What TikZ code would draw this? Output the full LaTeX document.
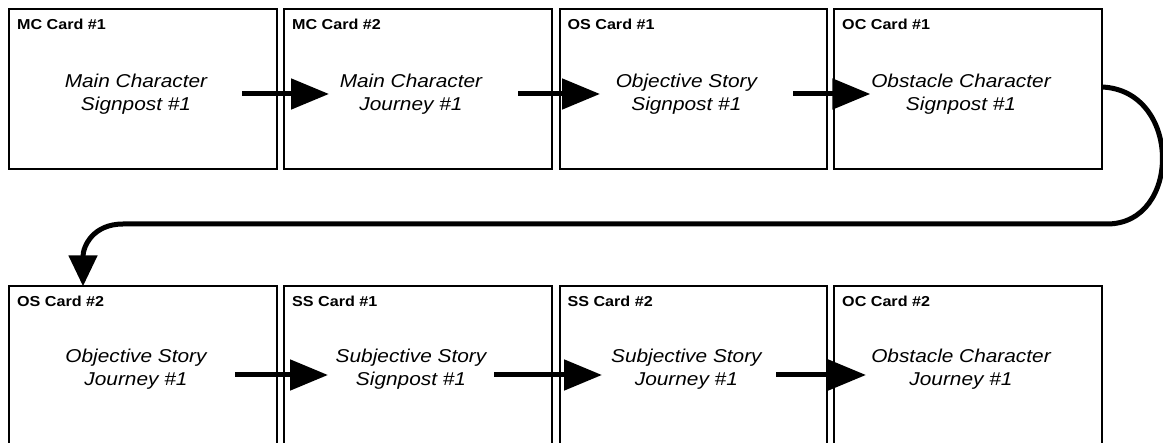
\documentclass[tikz,border=0pt]{standalone}
\usepackage{fontspec}
\setmainfont{Liberation Sans}
\newfontfamily\cardfont[FakeStretch=1.12]{Liberation Sans}
\usetikzlibrary{arrows.meta}
\tikzset{
  card/.style={draw, line width=2pt, minimum width=267.4pt, minimum height=159.4pt,
    inner sep=0pt, outer sep=0pt, anchor=north west},
  cardtitle/.style={anchor=base west, inner sep=0pt,
    font={\cardfont\bfseries\fontsize{14.4}{17}\selectfont}},
  body/.style={anchor=north, inner sep=0pt, align=center,
    font={\cardfont\itshape\fontsize{18.6}{23}\selectfont}},
  flow/.style={line width=5pt, -{Triangle[length=38pt,width=30pt]}},
  conn/.style={line width=5pt, -{Triangle[length=31pt,width=28pt]}}
}
\begin{document}
\begin{tikzpicture}[x=1pt,y=-1pt]
\useasboundingbox (0,0) rectangle (1163,443);
\clip (0,0) rectangle (1163,443);
% row 1
\node[card] (c1) at (9.3,9.3) {};
\node[card] (c2) at (284.3,9.3) {};
\node[card] (c3) at (559.7,9.3) {};
\node[card] (c4) at (834.3,9.3) {};
% row 2
\node[card] (d1) at (9.3,286.3) {};
\node[card] (d2) at (284.3,286.3) {};
\node[card] (d3) at (559.7,286.3) {};
\node[card] (d4) at (834.3,286.3) {};
% titles
\node[cardtitle] (h1) at ([shift={(7.7,20.4)}]c1.north west) {MC Card \#1};
\node[cardtitle] (h2) at ([shift={(7.7,20.4)}]c2.north west) {MC Card \#2};
\node[cardtitle] (h3) at ([shift={(7.7,20.4)}]c3.north west) {OS Card \#1};
\node[cardtitle] (h4) at ([shift={(7.7,20.4)}]c4.north west) {OC Card \#1};
\node[cardtitle] (g1) at ([shift={(7.7,20.4)}]d1.north west) {OS Card \#2};
\node[cardtitle] (g2) at ([shift={(7.7,20.4)}]d2.north west) {SS Card \#1};
\node[cardtitle] (g3) at ([shift={(7.7,20.4)}]d3.north west) {SS Card \#2};
\node[cardtitle] (g4) at ([shift={(7.7,20.4)}]d4.north west) {OC Card \#2};
% bodies
\node[body] (t1) at ([shift={(-7,64.5)}]c1.north) {Main Character\\Signpost \#1};
\node[body] (t2) at ([shift={(-7,64.5)}]c2.north) {Main Character\\Journey \#1};
\node[body] (t3) at ([shift={(-7,64.5)}]c3.north) {Objective Story\\Signpost \#1};
\node[body] (t4) at ([shift={(-7,64.5)}]c4.north) {Obstacle Character\\Signpost \#1};
\node[body] (u1) at ([shift={(-7,62.5)}]d1.north) {Objective Story\\Journey \#1};
\node[body] (u2) at ([shift={(-7,62.5)}]d2.north) {Subjective Story\\Signpost \#1};
\node[body] (u3) at ([shift={(-7,62.5)}]d3.north) {Subjective Story\\Journey \#1};
\node[body] (u4) at ([shift={(-7,62.5)}]d4.north) {Obstacle Character\\Journey \#1};
% arrows row 1
\draw[flow] ([shift={(-34.7,5)}]c1.east) -- ([shift={(44.7,5)}]c2.west);
\draw[flow] ([shift={(-33.7,5)}]c2.east) -- ([shift={(40.3,5)}]c3.west);
\draw[flow] ([shift={(-33.7,5)}]c3.east) -- ([shift={(36,5)}]c4.west);
% arrows row 2
\draw[flow] ([shift={(-41.7,9)}]d1.east) -- ([shift={(43.7,9)}]d2.west);
\draw[flow] ([shift={(-57.7,9)}]d2.east) -- ([shift={(42.3,9)}]d3.west);
\draw[flow] ([shift={(-50.7,9)}]d3.east) -- ([shift={(31.7,9)}]d4.west);
% connector
\coordinate (turn) at (1107,224);
\coordinate (bend) at (123,224);
\draw[conn] ([shift={(0,-2)}]c4.east) .. controls +(80,3) and +(75,0) .. (turn)
  -- (bend) .. controls +(-30,0) and +(0,-40) .. ([xshift=-60pt]d1.north);
\end{tikzpicture}
\end{document}
